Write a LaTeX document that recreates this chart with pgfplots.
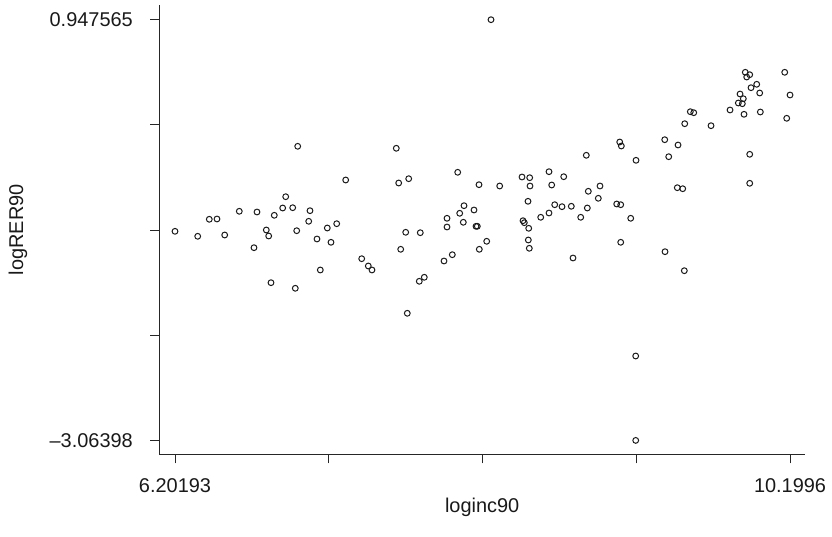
\documentclass[border=0pt]{standalone}
\usepackage{fontspec}
\setmainfont{Liberation Sans}
\usepackage{pgfplots}
\pgfplotsset{compat=1.18}
\begin{document}
\begin{tikzpicture}
\useasboundingbox (-159.3bp,-82.7bp) rectangle (672.7bp,454.3bp);
\begin{axis}[
 at={(0,0)}, anchor=south west,
 scale only axis, width=645.7bp, height=449.3bp,
 xmin=6.0999, xmax=10.2970, ymin=-3.1964, ymax=1.0878,
 axis x line*=bottom, axis y line*=left,
 axis line style={line width=0.9bp, black!85, -},
 tick align=outside, major tick length=9bp,
 every tick/.style={line width=0.9bp, black!85},
 xtick={6.20193,7.20135,8.20077,9.20018,10.1996},
 xticklabels={6.20193,,,,10.1996},
 ytick={-3.06398,-2.06109,-1.05821,-0.05532,0.947565},
 yticklabels={\textendash3.06398,,,,0.947565},
 /pgf/number format/assume math mode=true,
 ticklabel style={font=\fontsize{20}{22}\selectfont, text=black!90},
 xticklabel style={yshift=-12bp},
 yticklabel style={xshift=-14bp},
 xlabel={loginc90}, ylabel={logRER90},
 every axis x label/.style={at={(axis description cs:0.5,-0.1173)}, anchor=center, font=\fontsize{20}{22}\selectfont, text=black!90},
 every axis y label/.style={at={(axis description cs:-0.2188,0.5)}, rotate=90, anchor=center, font=\fontsize{20}{22}\selectfont, text=black!90},
 clip=false,
]
\addplot[only marks, mark=o, mark size=2.9bp, mark options={line width=1.0bp, black!90}] table {
x y
6.20193 -1.0701
6.3495 -1.1177
6.4249 -0.9556
6.4749 -0.9527
6.5250 -1.1053
6.6199 -0.8793
6.7349 -0.8860
6.8474 -0.9175
6.9020 -0.8479
6.9670 -0.8450
7.0794 -0.8736
7.0710 -0.9747
6.7954 -1.0576
6.8110 -1.1148
6.9930 -1.0643
7.1919 -1.0386
7.2530 -0.9976
7.1249 -1.1434
7.2159 -1.1749
6.7154 -1.2264
7.4155 -1.3313
7.4584 -1.4009
7.4824 -1.4390
7.1464 -1.4390
6.8259 -1.5601
6.9839 -1.6135
6.9995 -0.2596
7.3115 -0.5809
6.9215 -0.7401
7.6404 -0.2786
7.6560 -0.6095
7.7210 -0.5685
8.0395 -0.5075
8.1780 -0.6257
8.3125 -0.6381
8.4575 -0.5523
8.5075 -0.5589
8.5095 -0.6381
8.6330 -0.5017
8.7286 -0.5494
8.6506 -0.6286
8.8755 -0.3454
8.8885 -0.6886
8.4965 -0.7840
8.0805 -0.8259
8.1455 -0.8669
8.0525 -0.8984
7.9700 -0.9460
8.0760 -0.9842
7.9700 -1.0290
8.1585 -1.0223
8.1670 -1.0223
8.4640 -0.9690
8.4725 -0.9880
8.5011 -1.0414
8.5791 -0.9365
8.6330 -0.8955
8.6701 -0.8164
8.7175 -0.8354
8.7780 -0.8316
8.8391 -0.9365
8.8820 -0.8479
7.7015 -1.0796
7.7964 -1.0834
7.6690 -1.2417
8.4985 -1.1530
8.5050 -1.2321
8.2280 -1.1654
8.1800 -1.2417
8.0045 -1.2931
7.9505 -1.3532
8.7890 -1.3246
7.8224 -1.5086
7.7899 -1.5468
7.7119 -1.8519
9.9090 0.4460
9.9376 0.4232
9.9181 0.4012
10.1651 0.4460
9.9831 0.3316
9.9461 0.2992
10.0026 0.2487
10.1996 0.2296
9.8746 0.2391
9.8960 0.1943
9.8636 0.1533
9.8896 0.1467
9.8096 0.0866
9.9006 0.0456
10.0066 0.0675
10.1781 0.0074
9.5516 0.0704
9.5737 0.0608
9.5152 -0.0441
9.6861 -0.0631
9.3852 -0.1966
9.4716 -0.2472
9.4111 -0.3587
9.0927 -0.2186
9.1031 -0.2567
9.1986 -0.3931
9.9376 -0.3359
9.9376 -0.6124
9.4670 -0.6543
9.5021 -0.6639
8.9645 -0.6381
8.9535 -0.7554
9.0731 -0.8097
9.0991 -0.8164
9.1641 -0.9460
9.0991 -1.1749
9.3871 -1.2645
9.5126 -1.4457
8.2560 0.947565
9.1966 -2.2591
9.1966 -3.06398
};
\end{axis}
\end{tikzpicture}
\end{document}
